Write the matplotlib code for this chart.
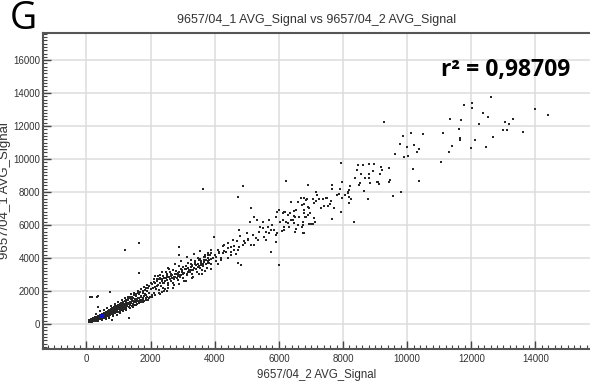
import matplotlib.pyplot as plt
from matplotlib.ticker import MultipleLocator

# dense core near the origin (x = chip 2 signal, y = chip 1 signal)
core_x = [70, 85, 90, 100, 105, 115, 120, 125, 135, 140, 150, 155, 165, 170, 180, 185, 195, 200,
          210, 215, 225, 230, 240, 250, 255, 265, 270, 280, 290, 295, 305, 310, 320, 330, 335, 345,
          350, 360, 370, 375, 385, 390, 400, 410, 415, 425, 430, 440, 450, 455, 465, 470, 480, 490,
          495, 505, 510, 520, 530, 535, 545, 550, 560, 570, 575, 585, 590, 600, 610, 615, 625, 630,
          640, 650, 655, 665, 670, 680, 690, 695, 705, 710, 720, 730, 740, 750, 755, 765, 775, 785,
          795, 800, 810, 820, 830, 840, 850, 860, 870, 880, 890, 900, 910, 920, 930, 945, 950, 960,
          975, 985, 995, 1000, 1015, 1030, 1040, 1055, 1065, 1080, 1095, 1105, 1120, 1130, 1150,
          1160, 1175, 1190, 1200, 1220, 1235, 1250, 1265, 1280, 1300, 1315, 1330, 1345, 1360, 1380,
          1395, 1410, 1430, 1445, 1465, 1480, 1500, 1520, 1535, 1555, 1570, 1590, 1610, 1625, 1650,
          1665, 1690, 1710, 1730, 1760, 1780, 1800, 1830, 1850, 1880, 1900, 1930, 1960, 1980, 2010,
          2040,
          75, 95, 112, 128, 145, 162, 178, 192, 208, 222, 238, 252, 268, 285, 300, 318, 335, 352,
          368, 385, 402, 420, 438, 455, 472, 490, 508, 528, 545, 565, 582, 602, 620, 642, 660, 682,
          700, 722, 742, 765, 785, 808, 830, 852, 875, 898, 920, 945, 968, 990, 1012, 1038, 1062,
          1088, 1110, 1138, 1165, 1192, 1218, 1245, 1272, 1300, 1330, 1360, 1390, 1420, 1450, 1480,
          1512, 1545, 1578, 1610, 1645, 1680, 1715, 1750, 1790, 1830, 1870, 1910,
          300, 350, 420, 480, 550, 600, 650, 700, 760, 820, 880, 940, 1000, 1050, 1100, 1150, 1200,
          1250, 1300, 1350, 1400, 1450, 1500, 1550, 1600, 1650, 1700, 1750, 1800, 1850, 1900, 1950,
          2000, 2050, 2100, 2150, 2200, 2250, 2300, 2350, 2400, 2450, 2500, 2550, 2600]
core_y = [150, 110, 190, 140, 230, 170, 100, 260, 200, 150, 290, 210, 170, 320, 240, 140, 280, 200,
          340, 250, 180, 310, 260, 370, 210, 300, 240, 390, 280, 200, 350, 270, 420, 310, 240, 380,
          300, 450, 340, 260, 410, 330, 480, 370, 290, 440, 360, 520, 400, 320, 470, 390, 560, 430,
          350, 500, 420, 590, 460, 380, 540, 450, 630, 500, 410, 580, 480, 670, 540, 440, 620, 520,
          710, 580, 470, 660, 550, 760, 620, 500, 700, 590, 810, 660, 540, 750, 630, 860, 700, 580,
          800, 680, 900, 740, 620, 850, 720, 960, 790, 660, 900, 770, 1010, 840, 700, 950, 820, 1080,
          880, 740, 1010, 870, 1140, 930, 790, 1060, 920, 1200, 990, 840, 1120, 970, 1270,
          1050, 900, 1190, 1030, 1340, 1110, 960, 1260, 1090, 1420, 1180, 1020, 1340, 1150, 1500,
          1250, 1080, 1420, 1220, 1580, 1320, 1150, 1500, 1300, 1680, 1400, 1220, 1590, 1380, 1780,
          1470, 1300, 1680, 1460, 1880, 1560, 1380, 1780, 1540, 1990, 1650, 1470, 1880, 1640, 2120,
          1760,
          200, 260, 130, 180, 240, 120, 280, 170, 230, 300, 190, 330, 220, 340, 240, 380, 290, 410,
          300, 460, 360, 500, 400, 540, 430, 580, 470, 620, 500, 660, 540, 700, 580, 740, 610, 790,
          650, 840, 700, 900, 740, 950, 780, 1000, 830, 1060, 880, 1110, 930, 1160, 980, 1230, 1030,
          1280, 1070, 1350, 1120, 1400, 1180, 1460, 1230, 1520, 1290, 1580, 1340, 1650, 1400, 1720,
          1450, 1790, 1520, 1860, 1570, 1930, 1620, 2000, 1690, 2080, 1750, 2150,
          600, 150, 750, 250, 850, 300, 950, 380, 1100, 450, 1200, 560, 1350, 650, 1450, 760, 1550,
          850, 1650, 950, 1800, 1050, 1900, 1150, 2000, 1250, 2100, 1350, 2250, 1450, 2350, 1550,
          2450, 1650, 2550, 1750, 2700, 1850, 2800, 1950, 2900, 2100, 3050, 2200, 3150]

# looser band between 2000 and 4000
band_x = [2050, 2100, 2150, 2200, 2250, 2300, 2350, 2400, 2450, 2500, 2550, 2600, 2650, 2700,
          2750, 2800, 2850, 2900, 2950, 3000, 3050, 3100, 3150, 3200, 3250, 3300, 3350, 3400,
          3450, 3500, 3550, 3600, 3650, 3700, 3750, 3800, 3850, 3900, 2120, 2280, 2420, 2580,
          2730, 2880, 3030, 3180, 3330, 3480, 3620, 3780, 1950, 1850, 1750, 2200, 2380, 2520,
          2680, 2820, 2980, 3120, 3270, 3420, 3560, 3720, 3880,
          2937, 2844, 2719, 2625, 2531, 2406, 2312, 2219, 3000, 2687, 2469, 3250, 3156, 3031,
          3344, 3469, 3562,
          2080, 2130, 2180, 2230, 2270, 2330, 2370, 2430, 2470, 2530, 2570, 2630, 2670, 2720,
          2770, 2830, 2870, 2930, 2970, 3020, 3070, 3130, 3170, 3230, 3280, 3330, 3380, 3430,
          3470, 3530, 3580, 3630, 3680, 3730, 3780, 3830, 3870, 2150, 2350, 2550, 2750, 2950,
          3150, 3350, 3550, 2300, 2500, 2700, 2900, 3100, 3300, 3500, 3700, 3900, 4100, 4200,
          4300, 4050, 4150]
band_y = [2400, 1900, 2250, 2600, 2050, 2450, 2750, 2200, 2600, 2900, 2350, 2700, 3050, 2500,
          2850, 3200, 2650, 2950, 3350, 2800, 3100, 3500, 2950, 3250, 3650, 3050, 3400, 3800,
          3150, 3500, 3950, 3250, 3650, 4050, 3400, 3800, 4150, 3600, 2750, 2950, 2000, 3300,
          2350, 3500, 2600, 3700, 2850, 4000, 3000, 4300, 2300, 2200, 1500, 2300, 2500, 2650,
          2800, 3000, 3150, 3300, 3450, 3550, 3700, 3850, 3950,
          2969, 2909, 2848, 2909, 2848, 2787, 2727, 2909, 3454, 3272, 3151, 3272, 3151, 3090,
          3393, 3454, 3575,
          2200, 2500, 2100, 2350, 2700, 2300, 2600, 2450, 2800, 2500, 2850, 2600, 2950, 2700,
          3050, 2800, 3100, 2850, 3250, 3000, 3350, 3050, 3400, 3150, 3500, 3250, 3600, 3350,
          3650, 3400, 3800, 3500, 3900, 3600, 4000, 3700, 3950, 2900, 3150, 3400, 3600, 3800,
          4050, 4250, 4400, 1800, 2000, 2200, 2400, 2600, 2800, 3000, 3200, 3350, 3600, 4000,
          4800, 3800, 4300]

# middle part 3500 - 7000
mid_x = [3656, 3781, 3812, 3937, 4031, 4125, 4250, 4344, 4406, 4500, 4562, 4719, 4750, 4875,
         4906, 5031, 5125, 5219, 5344, 5906, 6000, 5750, 5594, 5531, 5375, 5500, 5656, 5750,
         5687, 5906, 6094, 6156, 6281, 6625, 6500, 6437, 6594, 6344, 6187, 6125, 5937, 4187,
         4406, 4719, 4812, 4500, 4594, 3875, 3781, 3656, 3250, 3969, 2875, 3625, 4875, 4719,
         5125, 5219, 5312, 5094, 4750, 6375, 6531,
         4000, 4100, 4250, 4400, 4600, 4700, 4800, 5000, 5200, 5400, 5500, 5700, 5800, 5900,
         6000, 3500, 3600, 3700, 3900, 3400, 3300, 3100, 2900, 2800, 4300, 4500, 4650, 4950,
         5050, 5300, 5600, 5850, 6050, 5950]
mid_y = [3757, 3697, 3878, 4000, 4060, 4363, 4303, 4363, 4606, 4666, 5090, 4484, 4666, 4787,
         5030, 5090, 4787, 4787, 5090, 4969, 3575, 4363, 5090, 5272, 5575, 5818, 5878, 5697,
         5515, 5393, 5636, 5878, 6121, 6484, 6484, 6303, 7393, 6727, 6787, 6727, 6787, 3878,
         4000, 3697, 3575, 4181, 4484, 4484, 4181, 4060, 3878, 5272, 4666, 8181, 8363, 7696,
         7030, 6484, 6303, 6181, 5697, 7393, 6909,
         4200, 4500, 4700, 4900, 4700, 5000, 5300, 5500, 5400, 5900, 6200, 6300, 6000, 6500,
         6900, 3900, 3600, 4200, 4300, 3700, 3550, 3350, 3150, 3000, 4400, 4350, 4250, 4900,
         5150, 5200, 5550, 5700, 6150, 5500]

# upper part 6000 - 10000
upper_x = [9219, 9156, 8937, 8812, 8437, 8562, 8375, 8687, 8812, 9437, 9062, 9125, 8500, 8531,
           7969, 8219, 8656, 8187, 8156, 8156, 7906, 7875, 7812, 7656, 7656, 8062, 7969, 8250,
           7625, 7594, 7500, 7469, 7375, 7250, 7156, 7187, 7531, 7406, 7312, 6906, 9562, 9812,
           8781, 7656, 8343, 7156, 7094, 7062, 6781, 6875, 6719, 6937, 6781, 6906, 6812, 7094,
           7125, 7000, 7062, 6937, 6750, 6781, 6219, 9094, 9469, 8844, 6687, 6844, 6781, 6906,
           6781, 6969, 6844, 6750, 6719, 6594, 6469, 6469, 6375, 6469, 6281, 6219, 6156, 6125,
           6312, 6156, 6531, 6500, 6750, 7937, 7719, 8187, 8187]
upper_y = [9333, 9090, 9272, 9090, 9333, 9090, 8848, 8848, 8848, 8606, 8606, 8484, 8424, 8545,
           8606, 8363, 8060, 8121, 8000, 7939, 8181, 7878, 7818, 8424, 8181, 7818, 7636, 7575,
           7454, 7272, 7636, 7636, 7575, 7575, 8000, 7818, 7151, 7151, 7030, 8424, 7757, 8000,
           7575, 6363, 6181, 7454, 7333, 7575, 7636, 7575, 7212, 7030, 6727, 6606, 6484, 6424,
           6181, 6060, 6060, 6060, 6000, 5515, 8666, 8606, 8727, 8545, 7636, 7515, 7272, 7090,
           6909, 6727, 6484, 6181, 5878, 6000, 6848, 6545, 6303, 6121, 6606, 6181, 6787, 6303,
           5878, 5697, 5757, 5575, 5515, 6787, 7030, 7333, 7696]

# top part above 10000
top_x = [12625, 11781, 12031, 12031, 11344, 11687, 12375, 12531, 12250, 14000, 14406, 13062,
         13312, 13187, 13000, 13125, 13625, 11625, 11125, 10500, 10125, 9875, 11656, 11656,
         12125, 12687, 12469, 12000, 11406, 11312, 10219, 10000, 10375, 10312, 10031, 9906,
         11062, 10187, 9281, 9781, 9625, 10375, 9437, 9187, 8969, 8812, 8469, 8625, 7937]
top_y = [13756, 13272, 13393, 13090, 12423, 12362, 12787, 12545, 12120, 13030, 12666, 12241,
         12423, 12120, 11757, 11757, 11636, 11818, 11575, 11515, 11575, 11393, 11272, 11151,
         11151, 11333, 10727, 10666, 10787, 10424, 10848, 10727, 10606, 10424, 10181, 10121,
         9818, 9394, 12241, 10909, 10302, 8666, 9454, 9515, 9696, 9696, 9636, 9636, 9757]

# stray points near the origin
stray_x = [1219, 1656, 1625, 2875, 344, 187, 375, 1344, 1062, 1375, 750, 125, 375, 812]
stray_y = [4484, 4909, 3090, 4181, 1636, 1636, 1030, 364, 727, 1636, 1939, 1636, 1697, 242]

# highlighted probe
hl_x = [500]
hl_y = [485]

r2_text = "r² = 0,98709"

fig = plt.figure(figsize=(5.9, 3.92), dpi=100)
ax = fig.add_axes([0.073, 0.110, 0.927, 0.806])

all_x = core_x + band_x + mid_x + upper_x + top_x + stray_x
all_y = core_y + band_y + mid_y + upper_y + top_y + stray_y
ax.scatter(all_x, all_y, s=2.0, marker='s', color='#262626', linewidths=0, zorder=3)
ax.scatter(hl_x, hl_y, s=7, marker='s', color='#1010d0', linewidths=0, zorder=4)

ax.set_xlim(-1350, 15700)
ax.set_ylim(-1520, 17650)

for v in range(0, 15000, 2000):
    ax.axvline(v, color='#dcdcdc', lw=1.1, zorder=1)
for v in range(0, 17000, 2000):
    ax.axhline(v, color='#dcdcdc', lw=1.1, zorder=1)

ax.xaxis.set_major_locator(MultipleLocator(2000))
ax.xaxis.set_minor_locator(MultipleLocator(200))
ax.yaxis.set_major_locator(MultipleLocator(2000))
ax.yaxis.set_minor_locator(MultipleLocator(200))
ax.tick_params(which='major', direction='in', length=6, width=1, color='#444',
               labelsize=7, labelcolor='#333')
ax.tick_params(axis='x', which='major', pad=4)
ax.tick_params(axis='y', which='major', pad=2)
ax.tick_params(which='minor', direction='in', length=3, width=0.8, color='#444')
ax.tick_params(top=False, right=False, which='both')

for s in ['left', 'bottom', 'top']:
    ax.spines[s].set_color('#555')
    ax.spines[s].set_linewidth(1.5)
ax.spines['right'].set_visible(False)

ax.set_title("9657/04_1 AVG_Signal vs 9657/04_2 AVG_Signal", fontsize=9,
             color='#333', family='Liberation Sans', pad=7)
ax.set_xlabel("9657/04_2 AVG_Signal", fontsize=8.3, color='#333',
              family='Liberation Sans', labelpad=3)
ax.set_ylabel("9657/04_1 AVG_Signal", fontsize=9.5, color='#333',
              family='Liberation Sans', va='center')
ax.yaxis.set_label_coords(-0.069, 0.5)
for lab in ax.get_xticklabels() + ax.get_yticklabels():
    lab.set_family('Liberation Sans')

fig.text(0.017, 0.925, "G", fontsize=27, family='Open Sans', color='black')
ax.text(0.963, 0.883, r2_text, transform=ax.transAxes, ha='right', va='center',
        fontsize=16.5, fontweight='bold', family='Open Sans', color='black')

fig.savefig('out.png', dpi=100)
